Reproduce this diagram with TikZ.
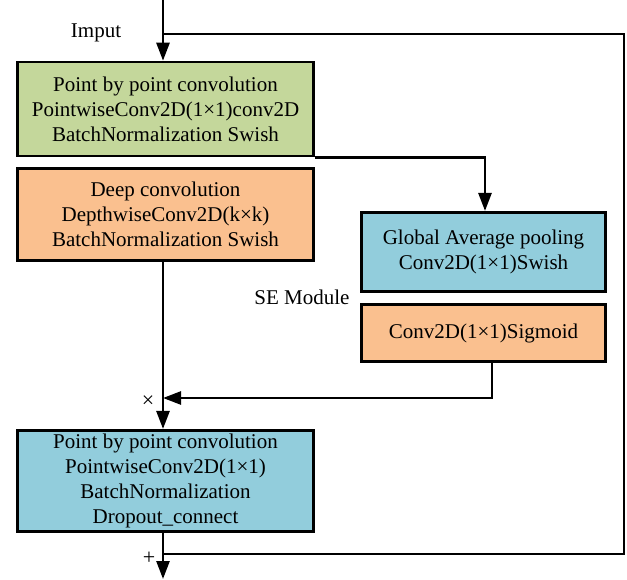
\documentclass[tikz,border=0pt]{standalone}
\usepackage{fontspec}
\setmainfont{Liberation Serif}
\usetikzlibrary{arrows.meta,calc}
\definecolor{cgreen}{RGB}{196,215,155}
\definecolor{corange}{RGB}{250,192,143}
\definecolor{cblue}{RGB}{146,205,220}
\begin{document}
\begin{tikzpicture}[x=1pt,y=-1pt,
  box/.style={draw=black, line width=2.6pt, align=center, inner sep=0pt,
    font=\fontsize{21}{25}\selectfont},
  conn/.style={line width=2.6pt, -{Triangle[length=18pt,width=13pt]}},
  plain/.style={line width=2.6pt},
  lbl/.style={font=\fontsize{21}{24}\selectfont, inner sep=0pt},
  sym/.style={font=\fontsize{22}{24}\selectfont, inner sep=0pt}]
\useasboundingbox (0,0) rectangle (627,580);

\node[box, fill=cgreen, minimum width=296pt, minimum height=94pt] (green) at (165.5,109)
  {Point by point convolution\\PointwiseConv2D(1×1)conv2D\\BatchNormalization Swish};
\node[box, fill=corange, minimum width=296pt, minimum height=92.5pt] (deep) at (165.5,214.5)
  {Deep convolution\\DepthwiseConv2D(k×k)\\BatchNormalization Swish};
\node[box, fill=cblue, minimum width=244.5pt, minimum height=79.5pt] (gap) at (483.5,252)
  {Global Average pooling\\Conv2D(1×1)Swish};
\node[box, fill=corange, minimum width=244.5pt, minimum height=57.5pt] (sig) at (483.5,333)
  {Conv2D(1×1)Sigmoid};
\node[box, fill=cblue, minimum width=296pt, minimum height=101.5pt] (out) at (165.5,481)
  {Point by point convolution\\PointwiseConv2D(1×1)\\BatchNormalization\\Dropout\_connect};

\node[lbl] (imput) at (96,33) {Imput};
\node[lbl] (se) at (302,297) {SE Module};
\node[sym] (times) at (148,402) {×};
\node[sym] (plus) at (149,558) {+};

\coordinate (top) at (163,0);
\coordinate (fb) at (163,34);
\coordinate (fr) at (624,34);
\coordinate (mul) at (163,398);
\coordinate (sum) at (163,554);
\coordinate (end) at (163,579);

\draw[conn] (top) -- (top |- green.north);
\draw[plain] (fb) -- (fr) -- (fr |- sum) -- (sum);
\draw[conn] (green.south east) -| ([xshift=1.5pt]gap.north);
\draw[conn] (deep.south -| top) -- (out.north -| top);
\draw[conn] ([xshift=8.5pt]sig.south) |- (mul);
\draw[conn] (out.south -| top) -- (end);
\end{tikzpicture}
\end{document}
